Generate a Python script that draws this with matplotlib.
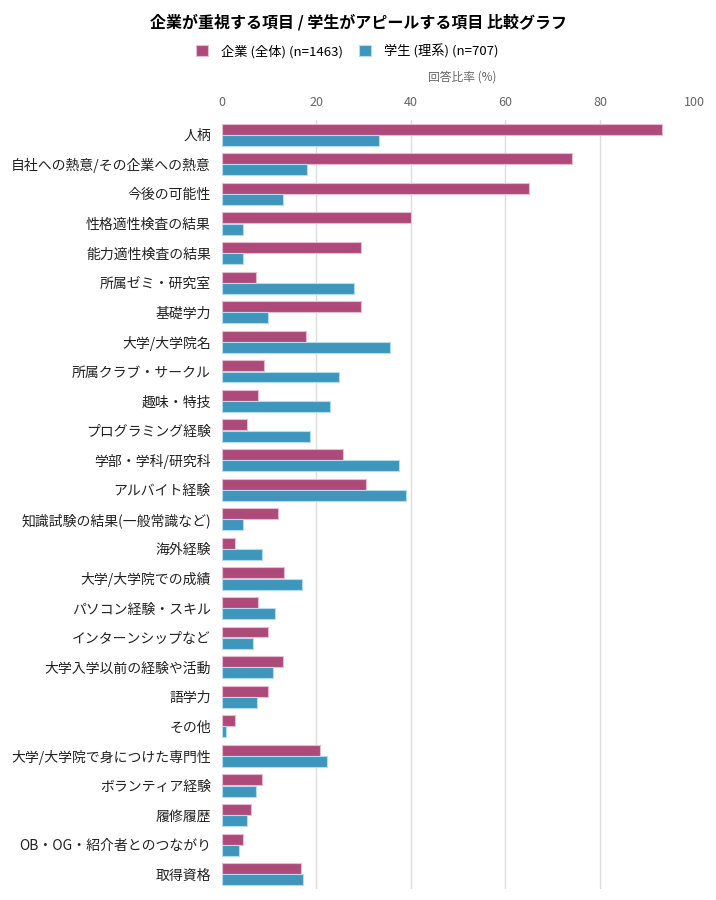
import matplotlib
matplotlib.use('Agg')
import matplotlib.pyplot as plt
import numpy as np

plt.rcParams['font.family'] = ['Noto Sans CJK JP', 'DejaVu Sans']

# 項目と回答比率 (%)
categories = ['人柄', '自社への熱意/その企業への熱意', '今後の可能性', '性格適性検査の結果',
              '能力適性検査の結果', '所属ゼミ・研究室', '基礎学力', '大学/大学院名',
              '所属クラブ・サークル', '趣味・特技', 'プログラミング経験', '学部・学科/研究科',
              'アルバイト経験', '知識試験の結果(一般常識など)', '海外経験', '大学/大学院での成績',
              'パソコン経験・スキル', 'インターンシップなど', '大学入学以前の経験や活動', '語学力',
              'その他', '大学/大学院で身につけた専門性', 'ボランティア経験', '履修履歴',
              'OB・OG・紹介者とのつながり', '取得資格']
corp = [93.1, 74.0, 65.0, 39.9, 29.5, 7.1, 29.5, 17.8, 9.0, 7.6, 5.4, 25.6, 30.5,
        11.9, 2.8, 13.1, 7.7, 9.7, 12.9, 9.7, 2.8, 20.8, 8.5, 6.1, 4.5, 16.8]
student = [33.2, 18.1, 13.0, 4.5, 4.45, 27.9, 9.8, 35.5, 24.7, 22.9, 18.6, 37.5, 38.9,
           4.5, 8.5, 16.9, 11.3, 6.6, 10.7, 7.5, 0.9, 22.2, 7.1, 5.4, 3.7, 17.2]
series_names = ['企業 (全体) (n=1463)', '学生 (理系) (n=707)']
xticks = [0, 20, 40, 60, 80, 100]

c_corp = '#ae4a79'
c_stu = '#3e96bd'

fig = plt.figure(figsize=(7.16, 9.0), dpi=100)
ax = fig.add_axes([0.310, 0.0122, 0.660, 0.8545])

y = np.arange(len(categories))
h = 0.37
ax.barh(y - 0.19, corp, height=h, color=c_corp, edgecolor='#e6bcd0', linewidth=0.8, zorder=3,
        label=series_names[0])
ax.barh(y + 0.19, student, height=h, color=c_stu, edgecolor='#b5dcec', linewidth=0.8, zorder=3,
        label=series_names[1])

ax.set_xlim(0, 100)
ax.set_ylim(len(categories) - 0.5, -0.5)
ax.set_yticks(y)
ax.set_yticklabels(categories, fontsize=10, color='#222222')
ax.set_xticks(xticks)
ax.xaxis.tick_top()
ax.tick_params(axis='x', length=0, pad=8, labelsize=9, labelcolor='#666666')
ax.tick_params(axis='y', length=0, pad=8)
# 20〜80 のみ縦の補助線
for gx in xticks[1:-1]:
    ax.axvline(gx, color='#dddddd', linewidth=1, zorder=0)
for s in ax.spines.values():
    s.set_visible(False)

fig.text(0.645, 1 - 77 / 900, '回答比率 (%)', ha='center', va='center', fontsize=8.5, color='#666666')
fig.text(0.5, 1 - 22 / 900, '企業が重視する項目 / 学生がアピールする項目 比較グラフ',
         ha='center', va='center', fontsize=11.5, fontweight='bold')
fig.legend(loc='center', bbox_to_anchor=(0.485, 1 - 51 / 900), ncol=2, frameon=False,
           fontsize=9.5, handlelength=0.9, handleheight=0.9, columnspacing=1.2, handletextpad=1.0)

fig.savefig('out.png', dpi=100)
